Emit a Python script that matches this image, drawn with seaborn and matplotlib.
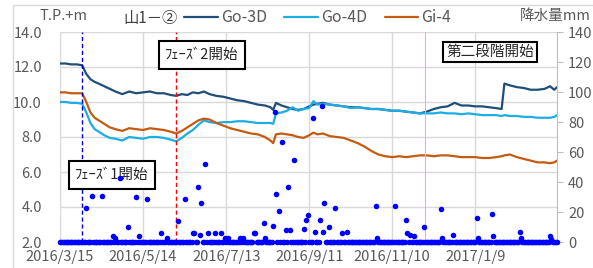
import pandas as pd
import numpy as np
import matplotlib
matplotlib.use('Agg')
import matplotlib.pyplot as plt
import matplotlib.dates as mdates
from matplotlib.lines import Line2D
from matplotlib.ticker import FuncFormatter, FixedLocator
import seaborn as sns

# 観測データ (2016/3/15 からの経過日数)
start = pd.Timestamp('2016-03-15')
days = [0, 4, 8, 12, 16, 19, 22, 25, 28, 32, 36, 40, 45, 50, 55, 60, 65, 70, 75, 80,
        84, 88, 92, 96, 100, 104, 108, 113, 118, 123, 128, 133, 138, 143, 148, 152, 154, 156, 160, 164,
        168, 172, 176, 180, 183, 186, 190, 195, 200, 205, 210, 215, 220, 225, 230, 235, 240, 245, 250, 255,
        260, 265, 270, 275, 280, 285, 290, 295, 300, 305, 310, 315, 319, 321, 325, 330, 335, 340, 345, 350,
        354, 357, 359]

go_3d = [12.2, 12.2, 12.15, 12.15, 12.1, 11.6, 11.3, 11.15, 11.05, 10.9, 10.75, 10.6, 10.45, 10.6, 10.5, 10.55, 10.6, 10.5, 10.5, 10.4,
         10.35, 10.45, 10.4, 10.55, 10.5, 10.6, 10.45, 10.35, 10.3, 10.2, 10.1, 10.05, 9.95, 9.85, 9.8, 9.7, 9.55, 9.95, 9.8, 9.7,
         9.6, 9.55, 9.6, 9.75, 9.85, 9.9, 9.95, 9.85, 9.8, 9.75, 9.7, 9.7, 9.65, 9.6, 9.6, 9.55, 9.5, 9.5, 9.45, 9.4,
         9.35, 9.45, 9.6, 9.7, 9.75, 9.95, 9.8, 9.8, 9.75, 9.75, 9.7, 9.65, 9.6, 11.05, 10.95, 10.85, 10.8, 10.7, 10.7, 10.75,
         10.9, 10.7, 10.85]

go_4d = [10.0, 10.0, 9.95, 9.95, 9.9, 9.4, 8.8, 8.45, 8.3, 8.1, 7.95, 7.9, 7.8, 8.0, 7.95, 7.9, 8.0, 8.0, 7.95, 7.85,
         7.75, 7.95, 8.2, 8.4, 8.7, 8.95, 8.85, 8.8, 8.85, 8.85, 8.9, 8.9, 8.85, 8.8, 8.8, 8.8, 8.75, 9.35, 9.4, 9.5,
         9.7, 9.5, 9.6, 9.65, 10.05, 9.85, 9.9, 9.85, 9.8, 9.75, 9.65, 9.7, 9.65, 9.6, 9.6, 9.55, 9.5, 9.5, 9.45, 9.4,
         9.35, 9.35, 9.35, 9.4, 9.35, 9.35, 9.3, 9.35, 9.3, 9.25, 9.25, 9.25, 9.2, 9.25, 9.2, 9.2, 9.15, 9.15, 9.1, 9.1,
         9.1, 9.15, 9.25]

gi_4 = [10.55, 10.55, 10.5, 10.5, 10.5, 10.0, 9.4, 9.1, 8.95, 8.75, 8.55, 8.45, 8.35, 8.5, 8.45, 8.4, 8.5, 8.45, 8.4, 8.3,
        8.2, 8.35, 8.55, 8.75, 8.95, 9.05, 9.0, 8.8, 8.65, 8.5, 8.4, 8.3, 8.2, 8.15, 8.0, 7.8, 7.65, 8.15, 8.2, 8.15,
        8.1, 8.0, 7.95, 8.1, 8.25, 8.15, 8.2, 8.05, 8.0, 7.95, 7.8, 7.65, 7.45, 7.2, 7.0, 6.9, 6.85, 6.9, 6.85, 6.9,
        6.95, 6.95, 6.9, 6.95, 6.95, 6.9, 6.85, 6.85, 6.85, 6.8, 6.8, 6.85, 6.9, 6.95, 7.0, 6.85, 6.75, 6.65, 6.55, 6.55,
        6.5, 6.55, 6.65]

# 降水量 (mm) : 記録のある日だけ、それ以外は 0
rain_day = [19, 23, 30, 38, 40, 43, 49, 55, 57, 63, 73, 77, 85, 90, 96, 97, 100, 101, 102, 105,
            107, 112, 116, 119, 121, 130, 132, 140, 141, 147, 148, 154, 155, 156, 158, 160, 163, 165, 166, 169,
            176, 178, 179, 183, 184, 188, 189, 190, 191, 194, 199, 204, 207, 228, 229, 242, 250, 251, 253, 256,
            263, 275, 276, 284, 301, 302, 312, 313, 332, 333, 354, 355]
rain_mm = [23, 31, 31, 4, 3, 43, 10, 30, 4, 29, 6, 3, 14, 29, 6, 6, 37, 5, 26, 52,
           6, 6, 6, 3, 3, 3, 3, 6, 6, 13, 3, 11, 87, 32, 21, 67, 8, 37, 8, 55,
           9, 15, 18, 83, 7, 15, 91, 7, 26, 10, 23, 6, 7, 24, 3, 24, 15, 6, 5, 4,
           10, 22, 3, 5, 16, 3, 19, 4, 7, 3, 4, 2]
n_rain_days = 360

series_names = ['Go-3D', 'Go-4D', 'Gi-4']
colors = ['#1F4E79', '#1CADE4', '#C55A11']

dates = start + pd.to_timedelta(days, unit='D')
df = pd.concat([
    pd.DataFrame({'date': dates, 'value': vals, 'series': name})
    for name, vals in zip(series_names, [go_3d, go_4d, gi_4])
])

rain = np.zeros(n_rain_days)
rain[rain_day] = rain_mm
df_rain = pd.DataFrame({'date': start + pd.to_timedelta(np.arange(n_rain_days), unit='D'), 'mm': rain})

sns.set_style('white')
plt.rcParams['font.family'] = ['Noto Sans CJK JP', 'DejaVu Sans']

fig = plt.figure(figsize=(5.93, 2.68), dpi=100)
ax = fig.add_axes([60 / 593, 1 - 242 / 268, (557 - 60) / 593, (242 - 32) / 268])
grid_c = '#D9D9D9'
txt_c = '#595959'

sns.lineplot(data=df, x='date', y='value', hue='series', hue_order=series_names,
             palette=colors, linewidth=1.6, ax=ax)
handles, labels = ax.get_legend_handles_labels()
ax.get_legend().remove()

ax.axvline(pd.Timestamp('2016-03-31'), color='#0000CC', lw=1, ls=(0, (3, 2)))
ax.axvline(pd.Timestamp('2016-06-07'), color='#FF0000', lw=1, ls=(0, (3, 2)))
ax.axvline(pd.Timestamp('2016-12-04'), color='#FF99FF', lw=0.8)

ax.set_ylim(2, 14)
ax.set_yticks(np.arange(2, 15, 2))
ax.yaxis.set_major_formatter(FuncFormatter(lambda v, p: f'{v:.1f}'))
xticks = pd.date_range(start, periods=6, freq='60D')
ax.xaxis.set_major_locator(FixedLocator(mdates.date2num(xticks)))
ax.xaxis.set_major_formatter(FuncFormatter(
    lambda v, p: f'{mdates.num2date(v).year}/{mdates.num2date(v).month}/{mdates.num2date(v).day}'))
ax.set_xlim(start, pd.Timestamp('2017-03-09'))
ax.grid(True, color=grid_c, lw=1)
ax.set_xlabel('')
ax.set_ylabel('')
for s in ax.spines.values():
    s.set_visible(False)
ax.tick_params(axis='y', length=0, pad=13, labelsize=10.5, labelcolor=txt_c)
ax.tick_params(axis='x', length=0, pad=6, labelsize=10.5, labelcolor=txt_c)

ax2 = ax.twinx()
sns.scatterplot(data=df_rain, x='date', y='mm', color='#0000FF', s=16, linewidth=0,
                clip_on=False, ax=ax2, zorder=5)
ax2.set_ylim(0, 140)
ax2.set_yticks(np.arange(0, 141, 20))
ax2.set_xlim(start, pd.Timestamp('2017-03-09'))
ax2.set_ylabel('')
ax2.set_xlabel('')
for k, s in ax2.spines.items():
    s.set_visible(k == 'right')
ax2.spines['right'].set_color('#BFBFBF')
ax2.tick_params(axis='y', length=4, color='#BFBFBF', pad=4, labelsize=10.5, labelcolor=txt_c)
ax2.grid(False)

# 注記 (降水量の点より下に置く)
box = dict(boxstyle='square,pad=0.45', fc='white', ec='black', lw=1.5)
ax2.text(202 / 593, 1 - 55 / 268, 'ﾌｪｰｽﾞ2開始', transform=fig.transFigure, ha='center', va='center',
         fontsize=10.5, bbox=box, zorder=4)
ax2.text(112 / 593, 1 - 175 / 268, 'ﾌｪｰｽﾞ1開始', transform=fig.transFigure, ha='center', va='center',
         fontsize=10.5, bbox=box, zorder=4)
ax2.text(490 / 593, 1 - 52 / 268, '第二段階開始', transform=fig.transFigure, ha='center', va='center',
         fontsize=10.5, bbox=dict(boxstyle='square,pad=0.2', fc='white', ec='black', lw=1.5), zorder=4)

fig.text(40 / 593, 1 - 16 / 268, 'T.P.+m', ha='left', va='center', fontsize=10.5, color=txt_c)
fig.text(520 / 593, 1 - 16 / 268, '降水量mm', ha='left', va='center', fontsize=10.5, color=txt_c)
fig.text(123 / 593, 1 - 18 / 268, '山1－②', ha='left', va='center', fontsize=11, color='#404040')
fig.legend(handles, labels, loc='center left', bbox_to_anchor=(184 / 593, 1 - 18 / 268), ncol=3,
           frameon=False, handlelength=2.1, columnspacing=1.1, handletextpad=0.2, fontsize=11.5,
           labelcolor=txt_c, borderaxespad=0, borderpad=0)

# 外枠
fig.add_artist(Line2D([13 / 593, 1], [1 - 5 / 268] * 2, transform=fig.transFigure, color=grid_c, lw=1))
fig.add_artist(Line2D([13 / 593] * 2, [0, 1 - 5 / 268], transform=fig.transFigure, color=grid_c, lw=1))

fig.savefig('out.png', dpi=100)
